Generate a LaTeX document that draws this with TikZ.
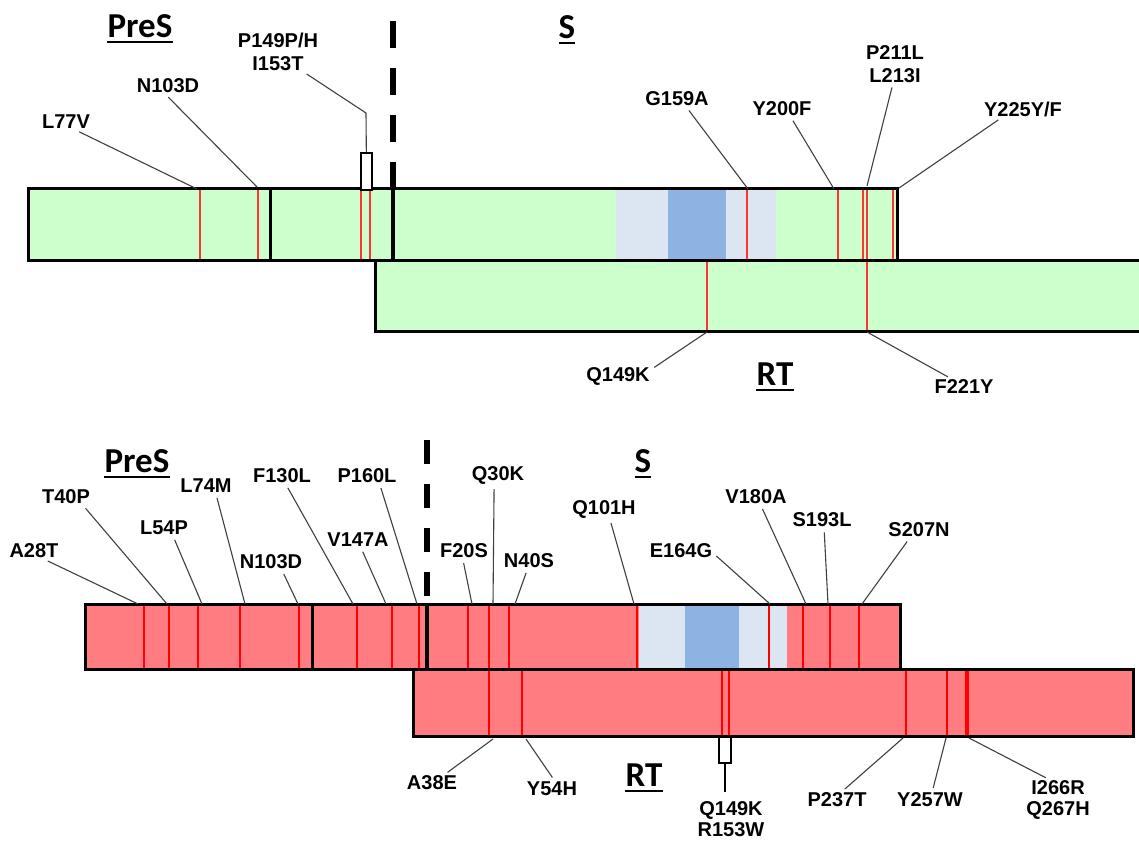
\documentclass[tikz,border=0pt]{standalone}
\usepackage{fontspec}
\newfontfamily\arialfont{Liberation Sans}
\newfontfamily\calfont{Carlito}
\usetikzlibrary{positioning}

\definecolor{hbvgreen}{HTML}{CCFFCC}
\definecolor{hbvrose}{HTML}{FF7C80}
\definecolor{paleblue}{HTML}{DCE6F2}
\definecolor{midblue}{HTML}{8DB3E2}
\definecolor{mutred}{HTML}{FF3333}
\definecolor{leadgray}{HTML}{404040}

\begin{document}
\begin{tikzpicture}[
x=1pt, y=-1pt,
lbl/.style={font=\arialfont\bfseries\fontsize{20}{22.5}\selectfont, inner sep=1pt, align=center},
ttl/.style={font=\calfont\bfseries\fontsize{35}{37}\selectfont, inner sep=0pt, anchor=base},
lead/.style={draw=leadgray, line width=1.1pt, shorten <=4pt},
frame/.style={draw=black, line width=3pt},
mutA/.style={draw=mutred, line width=2.2pt},
mutB/.style={draw=red, line width=2.2pt},
dashdiv/.style={draw=black, line width=6pt},
tick/.style={draw=black, line width=1.2pt, fill=white, inner sep=0pt},
uline/.style={draw=black, line width=2.5pt}
]
\useasboundingbox (0,0) rectangle (1139,841);
\fill[white] (0,0) rectangle (1139,841);

% upper panel
\fill[hbvgreen] (28,188) rectangle (897,260);
\fill[hbvgreen] (375,260) rectangle (1142,331);
\fill[paleblue] (616,189.5) rectangle (776,258.5);
\fill[midblue] (668,189.5) rectangle (726,258.5);
\foreach \x in {200,258,361,370,747,838,863,867,893}
  \draw[mutA] (\x,189) -- (\x,259);
\foreach \x in {707,867}
  \draw[mutA] (\x,261) -- (\x,330);
\draw[frame] (28,188) rectangle (897,260);
\draw[frame] (375,260) rectangle (1142,331);
\draw[frame] (270,188) -- (270,260);
\draw[frame, line width=3.5pt] (393,188) -- (393,260);
\draw[dashdiv, dash pattern=on 27pt off 20pt] (393,21) -- (393,188);

\node[ttl] (pres1) at (140,37) {PreS};
\node[ttl] (s1) at (567,38) {S};
\node[ttl] (rt1) at (775,385) {RT};

\node[lbl] (l77v) at (66,122) {L77V};
\node[lbl] (n103d) at (168,86) {N103D};
\node[lbl] (p149) at (278,52) {P149P/H\\I153T};
\node[lbl] (g159a) at (677,99) {G159A};
\node[lbl] (y200f) at (782,109) {Y200F};
\node[lbl] (p211l) at (895,64) {P211L\\L213I};
\node[lbl] (y225y) at (1023,109) {Y225Y/F};
\node[lbl] (q149k) at (618,376) {Q149K};
\node[lbl] (f221y) at (964,387) {F221Y};

% bent leader first, box on top of it
\coordinate (p149-k) at (366,113);
\coordinate (p149-c) at (366.5,171.5);
\draw[lead] (p149.-38) -- (p149-k) -- (p149-c);
\node[tick, minimum width=11pt, minimum height=37pt] (p149box) at (p149-c) {};

% lower panel
\fill[hbvrose] (85,604) rectangle (900,669);
\fill[hbvrose] (413,669) rectangle (1133,736);
\fill[paleblue] (639,605.5) rectangle (787,667.5);
\fill[midblue] (685,605.5) rectangle (739,667.5);
\foreach \x in {144,169,198,240,299,357,392,419,468,489,509,637,769,803,830,859}
  \draw[mutB] (\x,605) -- (\x,668);
\foreach \x in {489,522,722,729,906,947}
  \draw[mutB] (\x,670) -- (\x,735);
\draw[mutB, line width=4pt] (967,670) -- (967,735);
\draw[frame] (85,604) rectangle (900,669);
\draw[frame] (413,669) rectangle (1133,736);
\draw[frame] (312,604) -- (312,669);
\draw[frame, line width=3.5pt] (427,604) -- (427,669);
\draw[dashdiv, dash pattern=on 24pt off 20pt] (427,440) -- (427,604);

\node[ttl] (pres2) at (137,472) {PreS};
\node[ttl] (s2) at (643,472) {S};
\node[ttl] (rt2) at (644,786) {RT};

\node[lbl] (a28t) at (34,551) {A28T};
\node[lbl] (t40p) at (66,497) {T40P};
\node[lbl] (l54p) at (164,528) {L54P};
\node[lbl] (l74m) at (206,486) {L74M};
\node[lbl] (n103db) at (271,562) {N103D};
\node[lbl] (f130l) at (282,476) {F130L};
\node[lbl] (v147a) at (358,540) {V147A};
\node[lbl] (p160l) at (367,476) {P160L};
\node[lbl] (f20s) at (464,551) {F20S};
\node[lbl] (q30k) at (498,475) {Q30K};
\node[lbl] (n40s) at (529,561) {N40S};
\node[lbl] (q101h) at (604,509) {Q101H};
\node[lbl] (e164g) at (681,551) {E164G};
\node[lbl] (v180a) at (756,497) {V180A};
\node[lbl] (s193l) at (822,520) {S193L};
\node[lbl] (s207n) at (919,530) {S207N};
\node[lbl] (a38e) at (432,783) {A38E};
\node[lbl] (y54h) at (552,789) {Y54H};
\node[lbl, font=\arialfont\bfseries\fontsize{20}{20.5}\selectfont] (q149kb) at (731,819) {Q149K\\R153W};
\node[lbl] (p237t) at (837,800) {P237T};
\node[lbl] (y257w) at (930,800) {Y257W};
\node[lbl, font=\arialfont\bfseries\fontsize{20}{20.5}\selectfont] (i266r) at (1058,800) {I266R\\Q267H};

% stem first, box on top of it
\coordinate (q149-k) at (725,792);
\coordinate (q149-c) at (725,750);
\draw[black, line width=1.8pt] (q149-k) -- (q149-c);
\node[tick, minimum width=12pt, minimum height=26pt] (q149box) at (q149-c) {};

% leader lines, label -> site
\foreach \n/\a/\x/\y in {l77v/-40/197/189, n103d/-107/257/187, g159a/-41/748/189,
    y200f/-43/834/189, p211l/-96/867/186, y225y/-158/899/188, q149k/11/707/332,
    f221y/147/867/332, a28t/-39/138/604, t40p/-26/167/604, l54p/-42/202/604,
    l74m/-39/245/604, n103db/-37/298/604, f130l/-65/353/604, v147a/-69/386/604,
    p160l/-33/417/604, f20s/-98/472/604, q30k/-111/493/604, n40s/-101/515/604,
    q101h/-60/634/604, e164g/-4/770/604, v180a/-60/806/604, s193l/-76/828/604,
    s207n/-139/862/604, a38e/34/493/739, y54h/72/526/739, p237t/60/903/738,
    y257w/75/946/738, i266r/113/969/738}
{
  \coordinate (e-\n) at (\x,\y);
  \draw[lead] (\n.\a) -- (e-\n);
}

\foreach \t in {pres1,s1,rt1,pres2,s2,rt2}
  \draw[uline] ([yshift=-5pt]\t.base west) -- ([yshift=-5pt]\t.base east);

\end{tikzpicture}
\end{document}
